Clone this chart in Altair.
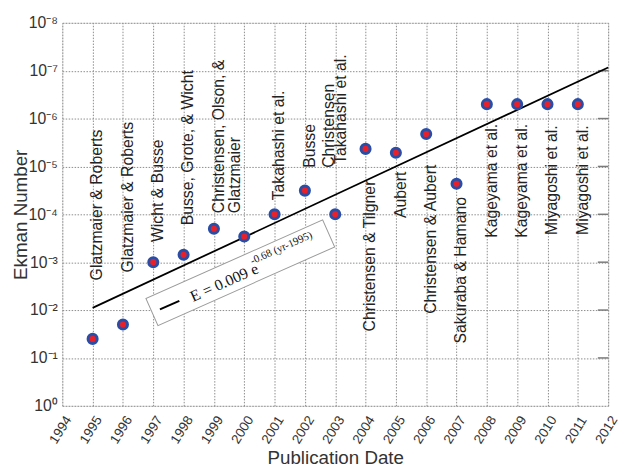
import altair as alt
import pandas as pd

# ---- data ----
years = [1995, 1996, 1997, 1998, 1999, 2000, 2001, 2002, 2003,
         2004, 2005, 2006, 2007, 2008, 2009, 2010, 2011]
ekman = [4.0e-2, 2.0e-2, 1.0e-3, 7.0e-4, 2.0e-4, 2.9e-4, 1.0e-4, 3.2e-5, 1.0e-4,
         4.3e-6, 5.2e-6, 2.1e-6, 2.3e-5, 5.0e-7, 5.0e-7, 5.0e-7, 5.0e-7]

label_text = ["Glatzmaier & Roberts", "Glatzmaier & Roberts", "Wicht & Busse",
              "Busse, Grote, & Wicht", "Christensen, Olson, &", "Glatzmaier",
              "Takahashi et al.", "Busse", "Christensen", "Takahashi et al.",
              "Christensen & Tilgner", "Aubert", "Christensen & Aubert",
              "Sakuraba & Hamano", "Kageyama et al.", "Kageyama et al.",
              "Miyagoshi et al.", "Miyagoshi et al."]
label_year = [1995, 1996, 1997, 1998, 1999, 1999.55, 2001, 2002, 2002.65, 2003.04,
              2004, 2005, 2006, 2007, 2008, 2009, 2010, 2011]
label_start = [2.4e-3, 1.65e-3, 3.8e-4, 1.7e-4, 9.5e-5, 9.5e-5, 5.1e-5, 1.07e-5,
               1.07e-5, 8.9e-6, 2.8e-2, 1.2e-4, 1.2e-2, 5.0e-2, 3.1e-4, 3.1e-4,
               2.7e-4, 2.7e-4]

fit_years = [1995, 2012]
fit_E = [9.0e-3, 8.6e-8]

decades = [1e-8, 1e-7, 1e-6, 1e-5, 1e-4, 1e-3, 1e-2, 1e-1, 1.0]
decade_names = ["10⁰", "10⁻¹", "10⁻²", "10⁻³", "10⁻⁴", "10⁻⁵", "10⁻⁶", "10⁻⁷", "10⁻⁸"]
year_ticks = list(range(1994, 2013))
inner_ticks = [1e-7, 1e-6, 1e-5, 1e-4, 1e-3, 1e-2, 1e-1]

legend_box = {"year": [1999.87], "E": [1.66e-3]}
legend_sample = {"year": [1997.54], "E": [7.9e-3]}
legend_main = {"year": [1998.31], "E": [6.8e-3], "t": ["E = 0.009 e"]}
legend_sup = {"year": [2000.26], "E": [1.12e-3], "t": ["-0.68 (yr-1995)"]}

# ---- frames ----
pts = pd.DataFrame({"year": years, "E": ekman})
labs = pd.DataFrame({"year": label_year, "E": label_start, "t": label_text})
fit = pd.DataFrame({"year": fit_years, "E": fit_E})
ticks_df = pd.DataFrame({"E": inner_ticks})

FONT = "Liberation Sans"
xs = alt.Scale(domain=[1994, 2012], nice=False, zero=False)
ys = alt.Scale(type="log", domain=[1e-8, 1], reverse=True, nice=False)

label_expr = "[" + ",".join("'" + s + "'" for s in decade_names) + "][round(-log(datum.value)/LN10)]"

x_axis = alt.Axis(values=year_ticks, format="d", labelAngle=-58, labelFontSize=13.5,
                  labelFont=FONT, labelColor="#333", labelPadding=24, labelOffset=-2,
                  labelAlign="center", labelBaseline="middle",
                  labelFlush=False, labelOverlap=False, ticks=False, tickSize=0,
                  domain=False, grid=True, gridDash=[1.5, 1.5], gridColor="#8c8c8c",
                  gridWidth=1, title="Publication Date", titleFont=FONT,
                  titleFontSize=19, titleFontWeight="normal", titleColor="#333",
                  titleY=58.5, titleBaseline="alphabetic")
y_axis = alt.Axis(values=decades, labelExpr=label_expr, labelFontSize=16,
                  labelFont=FONT, labelColor="#333", labelPadding=5,
                  labelOverlap=False, labelFlush=False, ticks=False, tickSize=0,
                  domain=False, grid=True, gridDash=[1.5, 1.5], gridColor="#8c8c8c",
                  gridWidth=1, title="Ekman Number", titleFont=FONT, titleFontSize=19,
                  titleFontWeight="normal", titleColor="#333", titleX=-32,
                  titleBaseline="bottom")

X = lambda: alt.X("year:Q", scale=xs, axis=x_axis)
Y = lambda: alt.Y("E:Q", scale=ys, axis=y_axis)

right_ticks = alt.Chart(ticks_df).mark_rule(color="#7a7a7a", strokeWidth=1.5).encode(
    x=alt.X("x0:Q", scale=xs, axis=x_axis), x2="x1:Q", y=Y()
).transform_calculate(x0="2011.66", x1="2012")

fit_line = alt.Chart(fit).mark_line(color="black", strokeWidth=1.8).encode(x=X(), y=Y())

box = alt.Chart(pd.DataFrame(legend_box)).mark_point(
    shape="M-1,-0.153H1V0.153H-1Z", size=38400, angle=336, filled=True,
    fill="white", stroke="#9a9a9a", strokeWidth=1, opacity=1
).encode(x=X(), y=Y())

sample = alt.Chart(pd.DataFrame(legend_sample)).mark_point(
    shape="stroke", size=462, angle=336, color="black", strokeWidth=2, opacity=1
).encode(x=X(), y=Y())

main_txt = alt.Chart(pd.DataFrame(legend_main)).mark_text(
    angle=336, align="left", baseline="alphabetic", font="Liberation Serif",
    fontSize=16, color="#111"
).encode(x=X(), y=Y(), text="t:N")

sup_txt = alt.Chart(pd.DataFrame(legend_sup)).mark_text(
    angle=336, align="left", baseline="alphabetic", font="Liberation Serif",
    fontSize=11, color="#111"
).encode(x=X(), y=Y(), text="t:N")

labels = alt.Chart(labs).mark_text(
    angle=270, align="left", baseline="top", dy=-3, font=FONT, fontSize=16,
    color="#222"
).encode(x=X(), y=Y(), text="t:N")

points = alt.Chart(pts).mark_circle(
    fill="#e8202a", stroke="#2a4ea6", strokeWidth=3, size=85, opacity=1
).encode(x=X(), y=Y())

chart = alt.layer(
    right_ticks, labels, fit_line, box, sample, main_txt, sup_txt, points
).properties(
    width=553, height=388,
    autosize=alt.AutoSizeParams(type="none"),
    padding={"left": 55, "top": 12, "right": 12, "bottom": 60},
).configure_view(stroke="#7a7a7a", strokeWidth=2).configure(background="white")

chart.save("out.html", embed_options={"renderer": "svg", "actions": False})
